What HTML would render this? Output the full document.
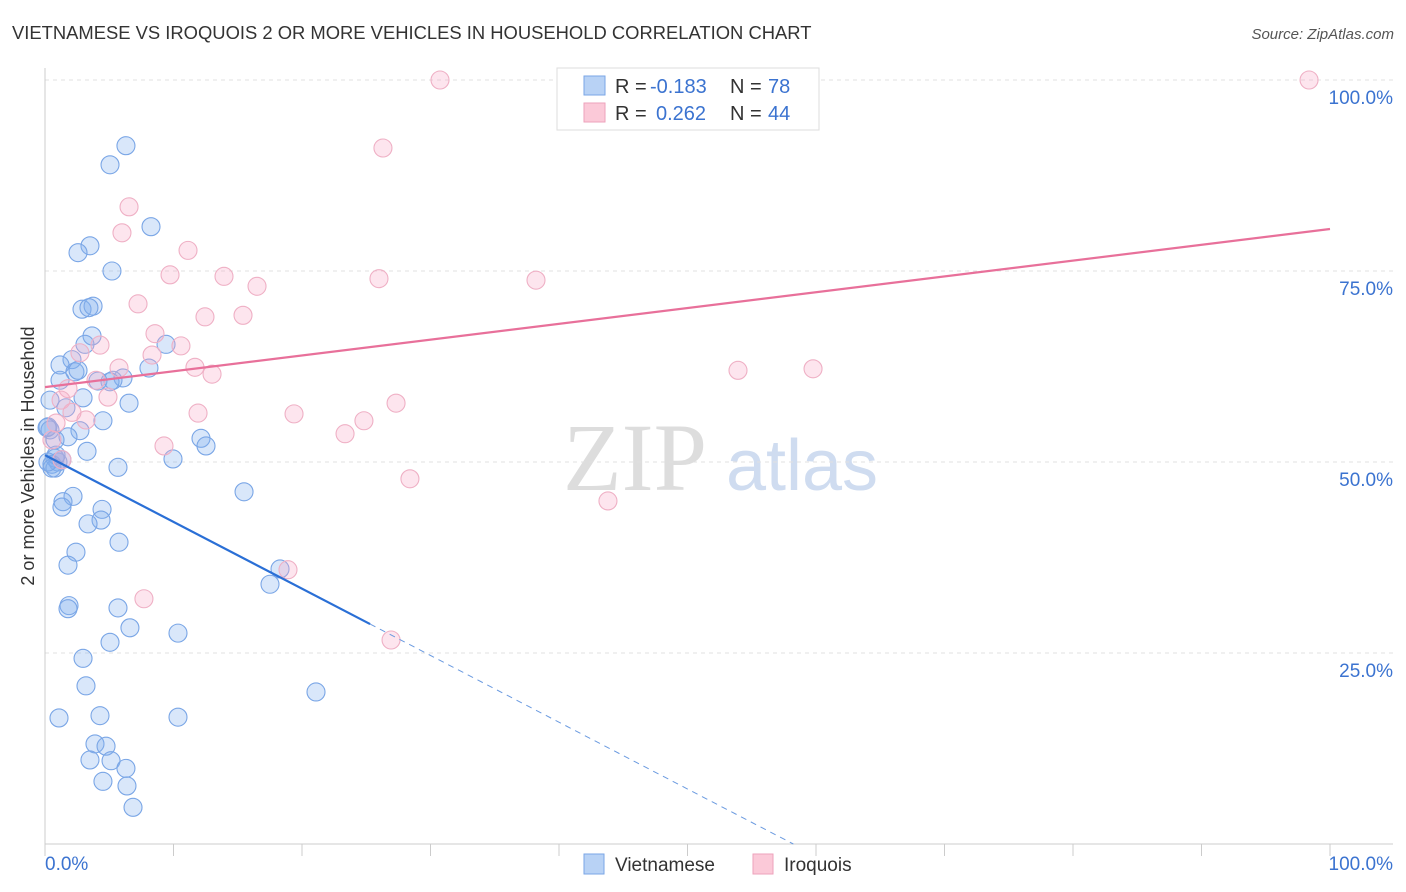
<!DOCTYPE html>
<html><head><meta charset="utf-8"><style>
body{margin:0;background:#fff;font-family:"Liberation Sans",sans-serif;}
svg{display:block}
</style></head><body>
<svg id="chart" width="1406" height="892" viewBox="0 0 1406 892" xmlns="http://www.w3.org/2000/svg">
<text x="12" y="39" font-size="18.4" fill="#333">VIETNAMESE VS IROQUOIS 2 OR MORE VEHICLES IN HOUSEHOLD CORRELATION CHART</text>
<text x="1394" y="39" font-size="15" fill="#555" font-style="italic" text-anchor="end">Source: ZipAtlas.com</text>
<g>
<text x="635" y="490" font-size="96" fill="#ddd" font-family="Liberation Serif" text-anchor="middle">ZIP</text>
<text x="802" y="490" font-size="72" fill="#cfdcf0" text-anchor="middle">atlas</text>
</g>
<g id="grid"></g>
<g id="axes"></g>
<g id="marks"></g>
<g id="trends"></g>
<text transform="translate(34,456) rotate(-90)" font-size="18" fill="#333" text-anchor="middle">2 or more Vehicles in Household</text>
<g>
<rect x="557" y="68" width="262" height="62" fill="#fff" stroke="#ddd"/>
<rect x="584" y="76" width="21" height="19" fill="#b8d2f5" stroke="#7aa6e6"/>
<rect x="584" y="103" width="21" height="19" fill="#fbc9d8" stroke="#eea2bb"/>
<text x="615" y="93" font-size="20" fill="#333">R = <tspan x="650" fill="#3b73d0">-0.183</tspan><tspan x="730">N = </tspan><tspan x="768" fill="#3b73d0">78</tspan></text>
<text x="615" y="120" font-size="20" fill="#333">R = <tspan x="656" fill="#3b73d0">0.262</tspan><tspan x="730">N = </tspan><tspan x="768" fill="#3b73d0">44</tspan></text>
</g>
<g>
<rect x="584" y="854" width="20" height="20" fill="#b8d2f5" stroke="#7aa6e6"/>
<text x="615" y="871" font-size="19" fill="#333">Vietnamese</text>
<rect x="753" y="854" width="20" height="20" fill="#fbc9d8" stroke="#eea2bb"/>
<text x="784" y="871" font-size="19" fill="#333">Iroquois</text>
</g>
</svg>
<script>
const yTicks=[25,50,75,100];
const yTickLabels=["25.0%","50.0%","75.0%","100.0%"];
const xTickLabels=["0.0%","100.0%"];
const blueX=[6.3,5.06,8.25,3.5,2.57,5.21,2.88,3.74,3.42,3.66,3.11,9.42,2.1,1.17,2.33,2.57,8.09,6.07,4.12,5.06,5.29,6.54,2.96,0.39,1.63,4.51,2.72,1.79,0.23,0.39,12.14,12.53,0.78,3.27,0.78,1.01,1.32,0.54,0.78,9.96,5.68,15.49,2.18,1.4,1.32,4.44,4.36,3.35,5.76,2.41,1.79,18.29,17.51,1.87,1.79,5.68,6.61,10.35,5.06,2.96,3.19,21.09,1.09,4.28,10.35,3.89,4.75,3.5,5.14,6.3,4.51,6.38,6.85,0.16,0.54,0.86,0.23,1.17];
const blueY=[91.4,88.9,80.8,78.3,77.4,75.0,70.0,70.4,70.2,66.5,65.4,65.4,63.4,62.7,61.8,62.0,62.3,61.0,60.6,60.5,60.7,57.7,58.4,58.1,57.1,55.4,54.1,53.3,54.6,54.2,53.1,52.1,52.9,51.4,50.5,50.0,50.3,49.7,49.2,50.4,49.3,46.1,45.5,44.8,44.1,43.8,42.4,41.9,39.5,38.2,36.5,36.0,34.0,31.2,30.8,30.9,28.3,27.6,26.4,24.3,20.7,19.9,16.5,16.8,16.6,13.1,12.8,11.0,10.9,9.9,8.2,7.6,4.8,54.5,49.2,50.9,50.0,60.7];
const pinkX=[30.74,98.37,26.3,6.54,5.99,11.13,9.73,13.93,16.5,25.99,38.21,7.24,12.45,15.41,8.56,10.58,2.72,4.28,8.33,11.67,13.0,5.76,3.97,4.9,1.79,1.25,2.1,11.91,19.38,3.19,0.86,24.82,23.35,27.32,9.26,0.54,28.4,43.81,18.91,7.7,26.93,53.93,59.77,1.32];
const pinkY=[100,100,91.1,83.4,80.0,77.7,74.5,74.3,73.0,74.0,73.8,70.7,69.0,69.2,66.8,65.2,64.3,65.3,64.0,62.4,61.5,62.3,60.7,58.5,59.6,58.1,56.5,56.4,56.3,55.5,55.1,55.4,53.7,57.7,52.1,52.9,47.8,44.9,35.9,32.1,26.7,62.0,62.2,50.3];
const blueTrend=[50.9,-0.874];
const pinkTrend=[59.8,0.207];
const blueSolidEnd=25.3;

const NS="http://www.w3.org/2000/svg";
const X0=45,X1=1330,Y0=844,Y1=80;
const sx=v=>X0+(X1-X0)*v/100;
const sy=v=>Y0-(Y0-Y1)*v/100;
function mk(tag,attrs,parent){const e=document.createElementNS(NS,tag);for(const k in attrs)e.setAttribute(k,attrs[k]);parent.appendChild(e);return e;}
const grid=document.getElementById('grid'),axes=document.getElementById('axes'),marks=document.getElementById('marks'),trends=document.getElementById('trends');
yTicks.forEach((t,i)=>{
  const l=mk('line',{x1:X0,x2:1393,y1:sy(t),y2:sy(t),stroke:'#e0e0e0','stroke-dasharray':'4,4'},grid);
  
  
  const tx=mk('text',{x:1393,y:sy(t)+24,'font-size':19,fill:'#3b73d0','text-anchor':'end'},axes);
  tx.textContent=yTickLabels[i];
  
  
});
const ax=mk('line',{x1:X0,x2:X0,y1:68,y2:Y0,stroke:'#ccc'},axes);


const bx=mk('line',{x1:X0,x2:1393,y1:Y0,y2:Y0,stroke:'#ccc'},axes);


for(let i=0;i<=10;i++){
  const tk=mk('line',{x1:sx(i*10),x2:sx(i*10),y1:Y0,y2:Y0+12,stroke:'#ccc'},axes);
  
  
}
[[0,'start',X0],[1,'end',1393]].forEach(([i,a,x])=>{
  const t=mk('text',{x:x,y:870,'font-size':19,fill:'#3b73d0','text-anchor':a},axes);
  t.textContent=xTickLabels[i];
  
  
});
blueX.forEach((v,i)=>{
  const c=mk('circle',{cx:sx(v),cy:sy(blueY[i]),r:9,fill:'rgba(130,175,240,0.3)',stroke:'#7aa6e6','stroke-width':1.1},marks);
  
  
});
pinkX.forEach((v,i)=>{
  const c=mk('circle',{cx:sx(v),cy:sy(pinkY[i]),r:9,fill:'rgba(248,170,198,0.3)',stroke:'#efb0c5','stroke-width':1.1},marks);
  
  
});
const bf=x=>blueTrend[0]+blueTrend[1]*x, pf=x=>pinkTrend[0]+pinkTrend[1]*x;
const zeroX=-blueTrend[0]/blueTrend[1];
const pl=mk('line',{x1:sx(0),y1:sy(pf(0)),x2:sx(100),y2:sy(pf(100)),stroke:'#e8709a','stroke-width':2.2},trends);


const bl=mk('line',{x1:sx(0),y1:sy(bf(0)),x2:sx(blueSolidEnd),y2:sy(bf(blueSolidEnd)),stroke:'#2a6fd6','stroke-width':2.2},trends);


const bd=mk('line',{x1:sx(blueSolidEnd),y1:sy(bf(blueSolidEnd)),x2:sx(zeroX),y2:sy(0),stroke:'#6a9ae0','stroke-width':1,'stroke-dasharray':'6,5'},trends);


</script>
</body></html>
